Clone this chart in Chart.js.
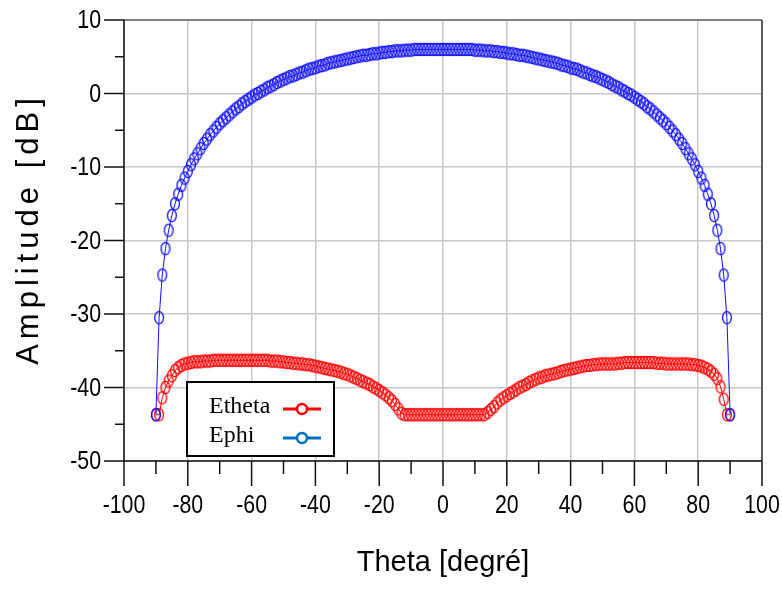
<!DOCTYPE html>
<html>
<head>
<meta charset="utf-8">
<script src="https://cdn.jsdelivr.net/npm/chart.js@4"></script>
<style>
  html, body { margin: 0; padding: 0; background: #fff; }
  canvas { display: block; }
</style>
</head>
<body>
<canvas id="c" width="782" height="594"></canvas>
<script>
// theta axis, one sample per degree
const theta = Array.from({ length: 181 }, (_, i) => i - 90);

// Etheta [dB], theta = -90 .. 90
const etheta = [
  -43.7, -43.7, -41.4, -40.0, -39.1, -38.4, -37.7, -37.3, -37.0, -36.8,
  -36.7, -36.6, -36.5, -36.5, -36.5, -36.4, -36.4, -36.4, -36.3, -36.3,
  -36.3, -36.3, -36.3, -36.3, -36.3, -36.3, -36.3, -36.3, -36.3, -36.3,
  -36.3, -36.3, -36.3, -36.3, -36.3, -36.3, -36.4, -36.4, -36.4, -36.5,
  -36.5, -36.6, -36.6, -36.7, -36.7, -36.8, -36.8, -36.9, -36.9, -37.0,
  -37.1, -37.2, -37.3, -37.4, -37.5, -37.6, -37.7, -37.8, -37.9, -38.1,
  -38.2, -38.4, -38.6, -38.8, -39.0, -39.2, -39.4, -39.6, -39.9, -40.1,
  -40.4, -40.7, -41.0, -41.4, -41.8, -42.3, -42.9, -43.5, -43.7, -43.7,
  -43.7, -43.7, -43.7, -43.7, -43.7, -43.7, -43.7, -43.7, -43.7, -43.7,
  -43.7, -43.7, -43.7, -43.7, -43.7, -43.7, -43.7, -43.7, -43.7, -43.7,
  -43.7, -43.7, -43.7, -43.7, -43.4, -43.0, -42.6, -42.1, -41.7, -41.4,
  -41.1, -40.8, -40.6, -40.3, -40.0, -39.8, -39.6, -39.3, -39.1, -38.9,
  -38.7, -38.6, -38.4, -38.3, -38.2, -38.1, -38.0, -37.8, -37.7, -37.6,
  -37.5, -37.4, -37.3, -37.2, -37.1, -37.0, -37.0, -36.9, -36.9, -36.8,
  -36.8, -36.8, -36.8, -36.8, -36.8, -36.7, -36.7, -36.6, -36.6, -36.6,
  -36.6, -36.6, -36.6, -36.6, -36.6, -36.6, -36.6, -36.7, -36.7, -36.7,
  -36.8, -36.8, -36.8, -36.8, -36.8, -36.8, -36.8, -36.8, -36.9, -36.9,
  -37.0, -37.1, -37.3, -37.5, -37.8, -38.2, -38.8, -39.9, -41.6, -43.7,
  -43.7
];

// Ephi [dB], theta = -90 .. 90
const ephi = [
  -43.7, -30.5, -24.7, -21.1, -18.6, -16.6, -15.0, -13.7, -12.5, -11.5,
  -10.6, -9.7, -8.9, -8.2, -7.5, -6.8, -6.2, -5.6, -5.1, -4.6,
  -4.1, -3.7, -3.3, -2.9, -2.5, -2.1, -1.8, -1.4, -1.1, -0.8,
  -0.5, -0.2, 0.0, 0.3, 0.5, 0.8, 1.0, 1.2, 1.5, 1.7,
  1.9, 2.1, 2.3, 2.4, 2.6, 2.8, 2.9, 3.1, 3.3, 3.4,
  3.5, 3.7, 3.8, 3.9, 4.1, 4.2, 4.3, 4.4, 4.5, 4.6,
  4.7, 4.8, 4.9, 5.0, 5.1, 5.2, 5.2, 5.3, 5.4, 5.4,
  5.5, 5.6, 5.6, 5.7, 5.7, 5.8, 5.8, 5.8, 5.9, 5.9,
  5.9, 6.0, 6.0, 6.0, 6.0, 6.0, 6.0, 6.0, 6.0, 6.0,
  6.0, 6.0, 6.0, 6.0, 6.0, 6.0, 6.0, 6.0, 6.0, 6.0,
  5.9, 5.9, 5.9, 5.8, 5.8, 5.8, 5.7, 5.7, 5.6, 5.6,
  5.5, 5.4, 5.4, 5.3, 5.2, 5.2, 5.1, 5.0, 4.9, 4.8,
  4.7, 4.6, 4.5, 4.4, 4.3, 4.2, 4.1, 3.9, 3.8, 3.7,
  3.5, 3.4, 3.3, 3.1, 2.9, 2.8, 2.6, 2.4, 2.3, 2.1,
  1.9, 1.7, 1.5, 1.2, 1.0, 0.8, 0.5, 0.3, 0.0, -0.2,
  -0.5, -0.8, -1.1, -1.4, -1.8, -2.1, -2.5, -2.9, -3.3, -3.7,
  -4.1, -4.6, -5.1, -5.6, -6.2, -6.8, -7.5, -8.2, -8.9, -9.7,
  -10.6, -11.5, -12.5, -13.7, -15.0, -16.6, -18.6, -21.1, -24.7, -30.5,
  -43.7
];

const xTicks = [-100, -80, -60, -40, -20, 0, 20, 40, 60, 80, 100];
const yTicks = [-50, -40, -30, -20, -10, 0, 10];

// hollow elliptic marker, as in the original plot
function ring(color) {
  const c = document.createElement('canvas');
  c.width = 12; c.height = 15;
  const g = c.getContext('2d');
  g.strokeStyle = color;
  g.lineWidth = 1.3;
  g.beginPath();
  g.ellipse(6, 7.5, 4.4, 6.2, 0, 0, Math.PI * 2);
  g.stroke();
  return c;
}

// narrow tick labels: Arial Narrow is not installed, so squeeze Liberation Sans
function narrowText(ctx, text, x, y, align) {
  ctx.save();
  ctx.translate(x, y);
  ctx.scale(0.82, 1);
  ctx.textAlign = align;
  ctx.fillText(text, 0, 0);
  ctx.restore();
}

const frame = {
  id: 'frame',
  afterDraw(chart) {
    const { ctx, chartArea: a, scales: { x, y } } = chart;
    ctx.save();
    // top and right border
    ctx.strokeStyle = '#808080';
    ctx.lineWidth = 2;
    ctx.beginPath(); ctx.moveTo(a.left, a.top); ctx.lineTo(a.right, a.top); ctx.stroke();
    ctx.strokeStyle = '#333';
    ctx.lineWidth = 1.5;
    ctx.beginPath(); ctx.moveTo(a.right, a.top); ctx.lineTo(a.right, a.bottom); ctx.stroke();
    // axes
    ctx.strokeStyle = '#111';
    ctx.beginPath(); ctx.moveTo(a.left, a.top); ctx.lineTo(a.left, a.bottom); ctx.lineTo(a.right, a.bottom); ctx.stroke();
    // x ticks every 10, long ones on the labels
    for (let v = -100; v <= 100; v += 10) {
      const px = x.getPixelForValue(v);
      const len = v % 20 === 0 ? 25 : 13;
      ctx.beginPath(); ctx.moveTo(px, a.bottom); ctx.lineTo(px, a.bottom + len); ctx.stroke();
    }
    // y ticks every 5
    for (let v = -50; v <= 10; v += 5) {
      const py = y.getPixelForValue(v);
      const len = v % 10 === 0 ? 20 : 9;
      ctx.beginPath(); ctx.moveTo(a.left - len, py); ctx.lineTo(a.left, py); ctx.stroke();
    }
    // tick labels from the scales
    ctx.fillStyle = '#000';
    ctx.font = "26px 'Liberation Sans', Arial, sans-serif";
    ctx.textBaseline = 'middle';
    x.ticks.forEach((t, i) => narrowText(ctx, String(t.label), x.getPixelForTick(i), 506, 'center'));
    y.ticks.forEach((t, i) => narrowText(ctx, String(t.label), 101, y.getPixelForTick(i) + 1, 'right'));

    // y title with spaced letters
    ctx.translate(29, 229);
    ctx.rotate(-Math.PI / 2);
    ctx.font = "31px 'Liberation Sans', Arial, sans-serif";
    ctx.letterSpacing = '5px';
    ctx.textAlign = 'center';
    ctx.textBaseline = 'middle';
    ctx.fillText('Amplitude [dB]', 0, 0);
    ctx.restore();

    // legend box
    ctx.save();
    ctx.fillStyle = '#fff';
    ctx.fillRect(187, 382, 147, 74);
    ctx.strokeStyle = '#000';
    ctx.lineWidth = 2;
    ctx.strokeRect(187, 382, 147, 74);
    ctx.font = "24px 'Liberation Serif', 'Times New Roman', serif";
    ctx.fillStyle = '#000';
    ctx.textBaseline = 'alphabetic';
    const items = [
      { label: chart.data.datasets[0].label, color: '#ff0000', y: 413 },
      { label: chart.data.datasets[1].label, color: '#0070c0', y: 442 }
    ];
    items.forEach(it => {
      ctx.fillText(it.label, 209, it.y);
      const ly = it.y - 4;
      ctx.strokeStyle = it.color;
      ctx.lineWidth = 3;
      ctx.beginPath(); ctx.moveTo(283, ly); ctx.lineTo(321, ly); ctx.stroke();
      ctx.fillStyle = '#fff';
      ctx.lineWidth = 2.5;
      ctx.beginPath(); ctx.arc(302, ly, 5, 0, Math.PI * 2); ctx.fill(); ctx.stroke();
      ctx.fillStyle = '#000';
    });
    ctx.restore();
  }
};

new Chart(document.getElementById('c'), {
  type: 'line',
  data: {
    datasets: [
      {
        label: 'Etheta',
        data: theta.map((t, i) => ({ x: t, y: etheta[i] })),
        borderColor: '#ff0000',
        borderWidth: 1,
        pointStyle: ring('#ff0000'),
        pointRadius: 5,
        order: 1
      },
      {
        label: 'Ephi',
        data: theta.map((t, i) => ({ x: t, y: ephi[i] })),
        borderColor: '#1010ff',
        borderWidth: 1,
        pointStyle: ring('#1010ff'),
        pointRadius: 5,
        order: 0
      }
    ]
  },
  options: {
    responsive: false,
    animation: false,
    devicePixelRatio: 1,
    layout: { padding: { top: 20, right: 20, bottom: 0, left: 0 } },
    plugins: { legend: { display: false }, tooltip: { enabled: false } },
    scales: {
      x: {
        type: 'linear',
        min: -100,
        max: 100,
        afterBuildTicks: s => { s.ticks = xTicks.map(v => ({ value: v })); },
        afterFit: s => { s.height = 133; s.paddingLeft = 0; s.paddingRight = 0; },
        grid: { color: '#c8c8c8', lineWidth: 1.5, drawTicks: false },
        border: { display: false },
        ticks: { display: false },
        title: {
          display: true,
          text: 'Theta [degré]',
          color: '#000',
          font: { family: "'Liberation Sans', Arial, sans-serif", size: 29 },
          padding: { top: 0, bottom: 14 }
        }
      },
      y: {
        type: 'linear',
        min: -50,
        max: 10,
        afterBuildTicks: s => { s.ticks = yTicks.map(v => ({ value: v })); },
        afterFit: s => { s.width = 124; s.paddingTop = 0; s.paddingBottom = 0; },
        grid: { color: '#c8c8c8', lineWidth: 1.5, drawTicks: false },
        border: { display: false },
        ticks: { display: false }
      }
    }
  },
  plugins: [frame]
});
</script>
</body>
</html>
